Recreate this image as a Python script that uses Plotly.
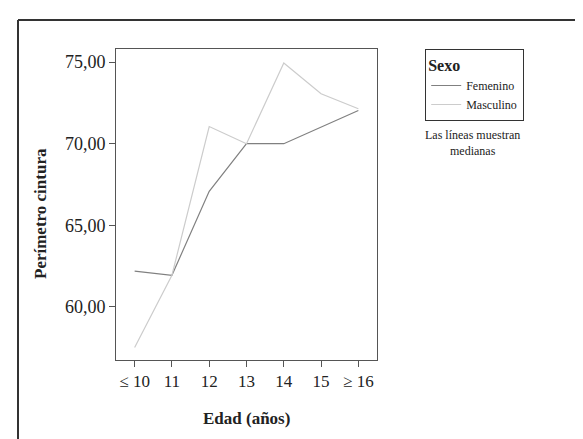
import plotly.graph_objects as go

edades = ["≤ 10", "11", "12", "13", "14", "15", "≥ 16"]
femenino = [62.19, 61.94, 67.08, 70.0, 70.0, 71.0, 72.03]
masculino = [57.52, 61.94, 71.05, 70.0, 74.94, 73.06, 72.14]
yticks = [60, 65, 70, 75]

FONT = "Liberation Serif"
W, H = 583, 439
L, R, T, B = 108, 369, 41, 352

def px(x):
    return (x - L) / (R - L)

def py(y):
    return (B - y) / (B - T)

fig = go.Figure()
fig.add_trace(go.Scatter(x=edades, y=femenino, mode="lines", name="Femenino",
                         line=dict(color="#808080", width=1.2)))
fig.add_trace(go.Scatter(x=edades, y=masculino, mode="lines", name="Masculino",
                         line=dict(color="#cccccc", width=1.2)))

fig.update_layout(
    width=W, height=H,
    margin=dict(l=L, r=W - R, t=T, b=H - B, pad=0),
    paper_bgcolor="white", plot_bgcolor="white",
    separators=",.",
    font=dict(family=FONT, color="#222222"),
    showlegend=True,
    legend=dict(
        x=px(417), y=py(41), xanchor="left", yanchor="top",
        bordercolor="#333333", borderwidth=1.2,
        bgcolor="white",
        title=dict(text="<b>Sexo</b>", font=dict(family=FONT, size=16, color="#222222")),
        font=dict(family=FONT, size=12, color="#222222"),
        tracegroupgap=0,
    ),
    xaxis=dict(
        type="category", range=[-0.5, 6.5],
        showline=True, linecolor="#555555", linewidth=1, mirror=True,
        ticks="outside", ticklen=6, tickcolor="#555555", tickwidth=1,
        showgrid=False, zeroline=False,
        tickfont=dict(family=FONT, size=17, color="#222222"),
    ),
    yaxis=dict(
        range=[56.75, 75.8],
        tickvals=yticks, tickformat=".2f",
        showline=True, linecolor="#555555", linewidth=1, mirror=True,
        ticks="outside", ticklen=6, tickcolor="#555555", tickwidth=1,
        showgrid=False, zeroline=False,
        tickfont=dict(family=FONT, size=18, color="#222222"),
    ),
    annotations=[
        dict(text="<b>Perímetro cintura</b>", x=px(32), y=py(206), xref="paper", yref="paper",
             textangle=-90, showarrow=False, xanchor="center", yanchor="middle",
             font=dict(family=FONT, size=17, color="#222222")),
        dict(text="<b>Edad (años)</b>", x=px(238), y=py(410), xref="paper", yref="paper",
             showarrow=False, xanchor="center", yanchor="middle",
             font=dict(family=FONT, size=17, color="#222222")),
        dict(text="Las líneas muestran<br>medianas", x=px(464), y=py(135), xref="paper", yref="paper",
             showarrow=False, xanchor="center", yanchor="middle", align="center",
             font=dict(family=FONT, size=12, color="#222222")),
    ],
    shapes=[
        dict(type="line", xref="paper", yref="paper", x0=px(10), x1=px(10), y0=py(12), y1=py(H + 5),
             line=dict(color="#333333", width=2)),
        dict(type="line", xref="paper", yref="paper", x0=px(10), x1=px(W + 5), y0=py(12), y1=py(12),
             line=dict(color="#333333", width=2)),
    ],
)

fig.write_html("out.html")
